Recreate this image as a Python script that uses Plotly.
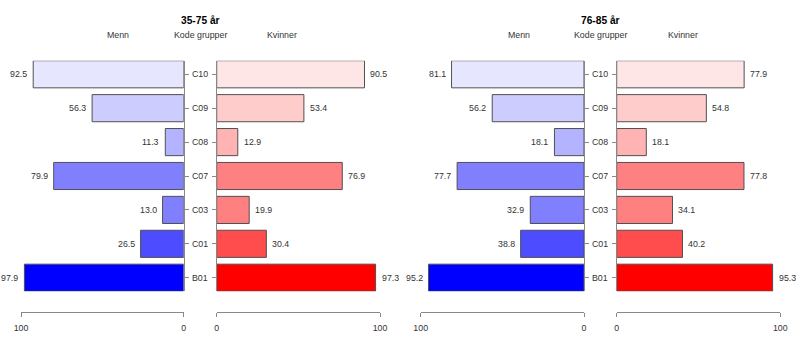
import plotly.graph_objects as go

codes = ["B01", "C01", "C03", "C07", "C08", "C09", "C10"]

panel_titles = ["35-75 år", "76-85 år"]

menn_35_75 = [97.9, 26.5, 13.0, 79.9, 11.3, 56.3, 92.5]
kvinner_35_75 = [97.3, 30.4, 19.9, 76.9, 12.9, 53.4, 90.5]
menn_76_85 = [95.2, 38.8, 32.9, 77.7, 18.1, 56.2, 81.1]
kvinner_76_85 = [95.3, 40.2, 34.1, 77.8, 18.1, 54.8, 77.9]

blue_colors = ["#0000FF", "#4D4DFF", "#8080FF", "#8080FF", "#B3B3FF", "#CCCCFF", "#E6E6FF"]
red_colors = ["#FF0000", "#FF4D4D", "#FF8080", "#FF8080", "#FFB3B3", "#FFCCCC", "#FFE6E6"]

W, H = 800, 352
FONT = "Liberation Sans, Arial, sans-serif"
FS = 8.8
TXT = "#333333"
AX = "#888888"
BORDER = "#505050"

# pixel layout
x_domains_px = [(21, 183.7), (216.7, 380), (420.7, 584), (616.7, 780.3)]
y_top_px, y_bot_px = 60.7, 291.3
axis_y_px = 312

fig = go.Figure()
ypos = list(range(len(codes)))

series = [
    (menn_35_75, blue_colors, True),
    (kvinner_35_75, red_colors, False),
    (menn_76_85, blue_colors, True),
    (kvinner_76_85, red_colors, False),
]

annotations = []
for i, (vals, cols, is_left) in enumerate(series):
    n = "" if i == 0 else str(i + 1)
    xa, ya = "x" + n, "y" + n
    fig.add_trace(go.Bar(
        x=vals, y=ypos, orientation="h", width=0.8,
        marker=dict(color=cols, line=dict(color=BORDER, width=1)),
        xaxis=xa, yaxis=ya, showlegend=False, hoverinfo="skip",
    ))
    d0, d1 = x_domains_px[i]
    fig.layout["xaxis" + n] = dict(
        domain=[d0 / W, d1 / W],
        range=[100, 0] if is_left else [0, 100],
        anchor="free", position=(H - axis_y_px) / H, automargin=False,
        showgrid=False, zeroline=False, showline=True, linecolor=AX, linewidth=1,
        ticks="outside", ticklen=4, tickcolor=AX, tickwidth=1,
        ticklabelstandoff=3,
        tickvals=[0, 100], ticktext=["0", "100"],
        tickfont=dict(family=FONT, size=FS, color=TXT),
        fixedrange=True,
    )
    fig.layout["yaxis" + n] = dict(
        domain=[1 - y_bot_px / H, 1 - y_top_px / H],
        range=[-0.4, len(codes) - 0.6],
        anchor=xa, side="right" if is_left else "left", automargin=False,
        showgrid=False, zeroline=False, showline=True, linecolor=AX, linewidth=1,
        ticks="outside", ticklen=4, tickcolor=AX, tickwidth=1,
        tickvals=ypos, showticklabels=False, fixedrange=True,
    )
    for v, yv in zip(vals, ypos):
        annotations.append(dict(
            x=v, y=yv, xref=xa, yref=ya, text=f"{v:.1f}", showarrow=False,
            xanchor="right" if is_left else "left", xshift=-4 if is_left else 4,
            font=dict(family=FONT, size=FS, color=TXT),
        ))

# category labels in middle + headers
centers_px = [200.2, 600.4]
menn_px = [118.3, 518.8]
kvinner_px = [281.7, 682.5]
for p in range(2):
    ya = "y" if p == 0 else "y3"
    for c, yv in zip(codes, ypos):
        annotations.append(dict(
            x=centers_px[p] / W, y=yv, xref="paper", yref=ya, text=c, showarrow=False,
            xanchor="center", font=dict(family=FONT, size=FS, color=TXT),
        ))
    annotations.append(dict(x=centers_px[p] / W, y=1 - 20.5 / H, xref="paper", yref="paper",
                            text=f"<b>{panel_titles[p]}</b>", showarrow=False,
                            xanchor="center", yanchor="middle",
                            font=dict(family=FONT, size=10.2, color="#000000")))
    for txt, xp in [("Menn", menn_px[p]), ("Kode grupper", centers_px[p]), ("Kvinner", kvinner_px[p])]:
        annotations.append(dict(x=xp / W, y=1 - 35 / H, xref="paper", yref="paper",
                                text=txt, showarrow=False, xanchor="center", yanchor="middle",
                                font=dict(family=FONT, size=FS, color=TXT)))

fig.update_layout(
    template="none",
    width=W, height=H, margin=dict(l=0, r=0, t=0, b=0, autoexpand=False),
    paper_bgcolor="white", plot_bgcolor="white",
    annotations=annotations, barmode="overlay",
    font=dict(family=FONT, size=FS, color=TXT),
)

fig.write_html("out.html")
